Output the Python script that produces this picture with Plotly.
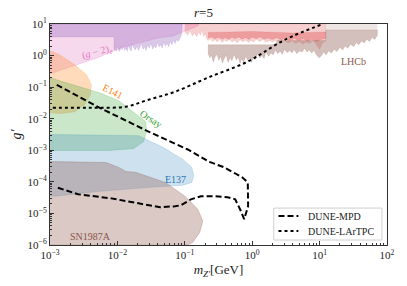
import numpy as np
import plotly.graph_objects as go

# ---------------- data ----------------
# (g-2)_e region (pink)
g2e_m = [1e-3, 0.16, 0.156, 0.067, 0.0405, 0.0125, 0.005, 1e-3]
g2e_g = [10, 10, 8.6, 4.2, 3.6, 1.88, 0.845, 0.265]

# purple region: top-left band corners, noisy lower edge, closing corners
pur_band_m = [1e-3, 0.0089]
pur_band_g = [3.9, 3.9]
pur_edge_m = [0.0089, 0.0092, 0.0096, 0.0100, 0.0104, 0.0108, 0.0113, 0.0118, 0.0123, 0.0128,
              0.0134, 0.014, 0.0146, 0.0153, 0.016, 0.0168, 0.0176, 0.0185, 0.0195, 0.0205,
              0.0216, 0.0228, 0.024, 0.0253, 0.0267, 0.0282, 0.0298, 0.0315, 0.0333, 0.0352,
              0.0372, 0.0393, 0.0415, 0.0438, 0.0462, 0.0488, 0.0515, 0.0545, 0.0577, 0.061,
              0.0645, 0.068, 0.072, 0.076, 0.080, 0.085, 0.089]
pur_edge_g = [1.5, 1.8, 1.4, 2.0, 1.6, 1.35, 1.9, 1.5, 2.2, 1.45,
              1.7, 1.35, 2.1, 1.6, 1.4, 2.3, 1.7, 1.5, 2.0, 1.45,
              1.8, 2.4, 1.6, 1.9, 1.45, 2.2, 1.7, 2.5, 1.6, 2.0,
              1.75, 2.6, 1.9, 2.2, 1.7, 2.7, 2.0, 2.4, 1.9, 2.8,
              2.2, 3.1, 2.4, 3.3, 2.8, 3.6, 4.5]
pur_top_m = [0.092, 1e-3]
pur_top_g = [10, 10]

# E141 (orange)
e141_m = [1e-3, 1.4e-3, 2.32e-3, 3.47e-3, 4.11e-3, 3.97e-3, 3.25e-3, 2.32e-3, 1.4e-3, 1e-3]
e141_g = [1.41, 1.05, 0.509, 0.246, 0.119, 0.0576, 0.0279, 0.0167, 0.0145, 0.0156]

# Orsay (green)
orsay_m = [1e-3, 5.38e-3, 0.0105, 0.0262, 0.0271, 0.0245, 0.0175, 7.5e-3, 1e-3]
orsay_g = [0.198, 0.0665, 0.0372, 8.1e-3, 3.9e-3, 1.9e-3, 1.14e-3, 9.9e-4, 9.9e-4]

# E137 (blue)
e137_m = [1e-3, 0.0207, 0.048, 0.094, 0.127, 0.136, 0.127, 0.094, 0.029, 5.38e-3, 1.18e-3, 1e-3]
e137_g = [3.16e-3, 2.9e-3, 1.22e-3, 5.1e-4, 2.86e-4, 1.6e-4, 9.6e-5, 7.8e-5, 6.7e-5, 5.0e-5, 3.5e-5, 3.6e-5]

# SN1987A (brown)
sn_m = [1e-3, 6.8e-3, 0.0105, 0.0134, 0.0187, 0.0514, 0.1007, 0.156, 0.185, 0.167, 0.132, 0.111, 1e-3]
sn_g = [4.4e-4, 4.1e-4, 2.86e-4, 2.14e-4, 2.0e-4, 9.6e-5, 3.5e-5, 1.36e-5, 5.7e-6, 2.55e-6, 1.23e-6, 1e-6, 1e-6]

# LHCb: light red layer
lr_m = [0.1, 0.11, 0.12, 0.13, 0.14, 0.15, 0.16, 0.17, 0.18, 0.19, 0.2, 0.21, 0.22, 0.24, 0.26,
        0.28, 0.30, 0.33, 0.36, 0.39, 0.42, 0.46, 0.50, 0.55, 0.60, 0.66, 0.72, 0.80, 0.88,
        0.96, 1.05, 1.15, 1.3, 1.45, 1.6, 1.8, 2.0, 2.3, 2.6, 3.0, 3.4, 3.9, 4.4, 5.0, 5.6,
        6.3, 7.0, 8.0, 9.0, 10, 11, 12.3, 12.3, 0.1]
lr_g = [5.5, 4.5, 6.0, 4.2, 5.2, 3.9, 5.6, 4.4, 6.2, 4.0, 5.0, 3.6, 3.0, 3.4, 2.8,
        3.3, 2.7, 3.2, 2.6, 3.1, 2.8, 3.3, 2.7, 3.0, 2.5, 3.2, 2.7, 3.1, 2.6,
        3.0, 2.7, 3.3, 2.8, 3.2, 2.6, 3.0, 2.7, 3.1, 2.6, 3.0, 2.5, 2.9, 2.4, 2.8, 2.3,
        2.7, 2.4, 2.9, 2.2, 1.6, 2.5, 2.9, 10, 10]

# LHCb: darker red band
rb_m = [0.22, 0.25, 0.28, 0.32, 0.36, 0.40, 0.45, 0.5, 0.56, 0.63, 0.7, 0.8, 0.9, 1.0, 1.15,
        1.3, 1.5, 1.7, 2.0, 2.3, 2.7, 3.1, 3.6, 4.2, 4.9, 5.7, 6.6, 7.7, 9.0, 10.5, 12.3,
        12.3, 4.0, 1.0, 0.22]
rb_g = [3.6, 3.9, 3.4, 3.8, 3.3, 3.7, 3.2, 3.8, 3.4, 3.9, 3.3, 3.7, 3.2, 3.8, 3.4,
        3.9, 3.3, 3.6, 3.2, 3.7, 3.1, 3.6, 3.0, 3.5, 3.0, 3.4, 2.9, 3.3, 2.8, 3.2, 3.5,
        5.6, 5.2, 5.8, 5.4]

# LHCb: brown layer
lb_m = [0.22, 0.235, 0.25, 0.265, 0.28, 0.30, 0.32, 0.34, 0.36, 0.38, 0.41, 0.44, 0.47, 0.50,
        0.54, 0.58, 0.62, 0.66, 0.70, 0.75, 0.80, 0.86, 0.92, 0.98, 1.05, 1.12, 1.2, 1.3, 1.4,
        1.5, 1.6, 1.75, 1.9, 2.05, 2.2, 2.4, 2.6, 2.8, 3.0, 3.3, 3.6, 3.9, 4.2, 4.6, 5.0, 5.5,
        6.0, 6.5, 7.0, 7.6, 8.3, 9.0, 9.8, 10.5, 11.5, 12.5, 13.5, 15, 16.5, 18, 20, 22, 24,
        26, 29, 32, 35, 38, 42, 46, 50, 55, 60, 66, 72, 72, 12.3, 12.3, 2.3, 2.3, 0.22]
lb_g = [1.2, 0.85, 1.0, 0.62, 0.9, 1.1, 0.7, 0.95, 0.58, 0.75, 1.05, 0.6, 0.85, 0.68,
        1.1, 0.72, 0.9, 0.56, 0.8, 0.62, 0.95, 0.7, 0.85, 0.6, 1.0, 0.75, 1.15, 0.85, 1.0,
        0.8, 1.3, 0.95, 1.2, 1.05, 1.5, 1.15, 1.4, 1.1, 1.6, 1.25, 1.45, 1.2, 1.55, 1.15, 1.4, 1.3,
        1.7, 1.3, 1.5, 1.2, 1.45, 1.05, 0.85, 0.95, 1.3, 1.05, 1.4, 1.2, 1.6, 1.35, 1.8, 1.5, 2.0,
        1.7, 2.3, 1.9, 2.6, 2.2, 2.9, 2.5, 3.3, 2.8, 3.8, 3.2, 4.4, 6.5, 6.5, 3.0, 3.0, 2.2, 2.2]

# LHCb: light top layer (high mass)
lt_m = [12.3, 72, 72, 12.3]
lt_g = [10, 10, 6.5, 6.5]

# DUNE-MPD (dashed)
mpd_m = [1.26e-3, 5.4e-3, 0.029, 0.111, 0.233, 0.387, 0.71, 0.86, 0.87, 0.76, 0.66, 0.56,
         0.43, 0.277, 0.173, 0.123, 0.088, 0.072, 0.043, 0.0245, 8.1e-3, 2.6e-3, 1.26e-3]
mpd_g = [0.119, 0.0224, 3.9e-3, 1.06e-3, 4.3e-4, 2.86e-4, 1.39e-4, 9.6e-5, 1.69e-5, 6.6e-6,
         1.36e-5, 2.8e-5, 3.24e-5, 3.49e-5, 3.49e-5, 2.8e-5, 1.82e-5, 1.69e-5, 1.57e-5,
         1.95e-5, 3.0e-5, 4.04e-5, 6.7e-5]

# DUNE-LArTPC (dotted)
lar_m = [1.1e-3, 2.75e-3, 5.4e-3, 0.0134, 0.029, 0.072, 0.218, 0.84, 3.02, 11.2]
lar_g = [0.0224, 0.0224, 0.0224, 0.0241, 0.040, 0.0717, 0.198, 0.632, 3.13, 10]

# region labels
lab_text = ["(<i>g</i> − 2)<sub><i>e</i></sub>", "E141", "Orsay", "E137", "SN1987A", "LHCb"]
lab_m = [4.9e-3, 8.6e-3, 0.031, 0.072, 3.98e-3, 31.8]
lab_g = [1.22, 0.0716, 0.0100, 1.2e-4, 1.9e-6, 0.63]
lab_col = ["#e377c2", "#ff7f0e", "#2ca02c", "#1f77b4", "#8c564b", "#8c564b"]
lab_ang = [-15, 27, 33, 0, 0, 0]

legend_names = ["DUNE-MPD", "DUNE-LArTPC"]

x_tickvals = [1e-3, 1e-2, 1e-1, 1e0, 1e1, 1e2]
x_ticktext = ["10<sup>−3</sup>", "10<sup>−2</sup>", "10<sup>−1</sup>", "10<sup>0</sup>",
              "10<sup>1</sup>", "10<sup>2</sup>"]
y_tickvals = [1e-6, 1e-5, 1e-4, 1e-3, 1e-2, 1e-1, 1e0, 1e1]
y_ticktext = ["10<sup>−6</sup>", "10<sup>−5</sup>", "10<sup>−4</sup>", "10<sup>−3</sup>",
              "10<sup>−2</sup>", "10<sup>−1</sup>", "10<sup>0</sup>", "10<sup>1</sup>"]

FONT = "Liberation Serif"

fig = go.Figure()


def region(xs, ys, rgb, alpha, lw=0.8):
    fig.add_trace(go.Scatter(
        x=xs, y=ys, mode="lines", fill="toself",
        fillcolor=f"rgba({rgb},{alpha})",
        line=dict(color=f"rgba({rgb},{alpha})", width=lw, simplify=False),
        showlegend=False, hoverinfo="skip"))


region(g2e_m, g2e_g, "227,119,194", 0.28)
region(pur_band_m + pur_edge_m + pur_top_m, pur_band_g + pur_edge_g + pur_top_g,
       "148,103,189", 0.35, 0.5)
region(e141_m, e141_g, "255,127,14", 0.28)
region(orsay_m, orsay_g, "44,160,44", 0.25)
region(e137_m, e137_g, "31,119,180", 0.22)
region(sn_m, sn_g, "140,86,75", 0.32)
region(lr_m, lr_g, "214,39,40", 0.22, 0.4)
region(rb_m, rb_g, "214,39,40", 0.3, 0.4)
region(lb_m, lb_g, "140,86,75", 0.38, 0.4)
region(lt_m, lt_g, "140,86,75", 0.15, 0)

fig.add_trace(go.Scatter(x=mpd_m, y=mpd_g, mode="lines", name=legend_names[0],
                         showlegend=False, hoverinfo="skip",
                         line=dict(color="black", width=2, dash="6px,3px")))
fig.add_trace(go.Scatter(x=lar_m, y=lar_g, mode="lines", name=legend_names[1],
                         showlegend=False, hoverinfo="skip",
                         line=dict(color="black", width=2, dash="dot", shape="spline")))

for t, m, g, c, a in zip(lab_text, lab_m, lab_g, lab_col, lab_ang):
    fig.add_annotation(x=np.log10(m), y=np.log10(g), xref="x", yref="y", text=t,
                       showarrow=False, textangle=a,
                       font=dict(family=FONT, size=10, color=c))

# hand-built legend box (matplotlib style, lower right)
fig.add_shape(type="rect", xref="paper", yref="paper", x0=0.664, x1=0.985, y0=0.0225, y1=0.167,
              line=dict(color="#d0d0d0", width=1), fillcolor="rgba(255,255,255,0.85)", layer="above")
for yy, dash in zip([0.131, 0.063], ["6px,3px", "dot"]):
    fig.add_shape(type="line", xref="paper", yref="paper", x0=0.678, x1=0.737, y0=yy, y1=yy,
                  line=dict(color="black", width=2, dash=dash), layer="above")
for yy, name in zip([0.131, 0.063], legend_names):
    fig.add_annotation(x=0.76, y=yy, xref="paper", yref="paper", text=name, showarrow=False,
                       xanchor="left", yanchor="middle",
                       font=dict(family=FONT, size=10, color="#222"))

minor_x = [k * 10.0 ** e for e in range(-3, 2) for k in range(2, 10)]
minor_y = [k * 10.0 ** e for e in range(-6, 1) for k in range(2, 10)]

axis_common = dict(type="log", showgrid=False, zeroline=False, showline=True,
                   linecolor="#333", linewidth=1, mirror=True, ticks="inside",
                   ticklen=4, tickwidth=1, tickcolor="#333",
                   tickfont=dict(family=FONT, size=11, color="#222"))

fig.update_xaxes(range=[-3, 2], tickmode="array", tickvals=x_tickvals, ticktext=x_ticktext,
                 minor=dict(tickmode="array", tickvals=minor_x, ticks="inside", ticklen=2,
                            tickcolor="#333"),
                 title=dict(text="<i>m</i><sub><i>Z′</i></sub>[GeV]",
                            font=dict(family=FONT, size=13, color="#222"), standoff=4),
                 **axis_common)
fig.update_yaxes(range=[-6, 1], tickmode="array", tickvals=y_tickvals, ticktext=y_ticktext,
                 minor=dict(tickmode="array", tickvals=minor_y, ticks="inside", ticklen=2,
                            tickcolor="#333"),
                 title=dict(text="<i>g′</i>", font=dict(family=FONT, size=14, color="#222"),
                            standoff=2),
                 **axis_common)

fig.update_layout(
    width=407, height=286, autosize=False,
    margin=dict(l=50, r=15, t=24, b=40),
    paper_bgcolor="white", plot_bgcolor="white",
    showlegend=False, hovermode=False,
    title=dict(text="<i>r</i>=5", x=0.5, xanchor="center", y=0.955, yanchor="middle",
               font=dict(family=FONT, size=13, color="#222")),
)

fig.write_html("out.html", config={"displayModeBar": False, "staticPlot": True},
               post_script="document.body.style.margin='0px';")
